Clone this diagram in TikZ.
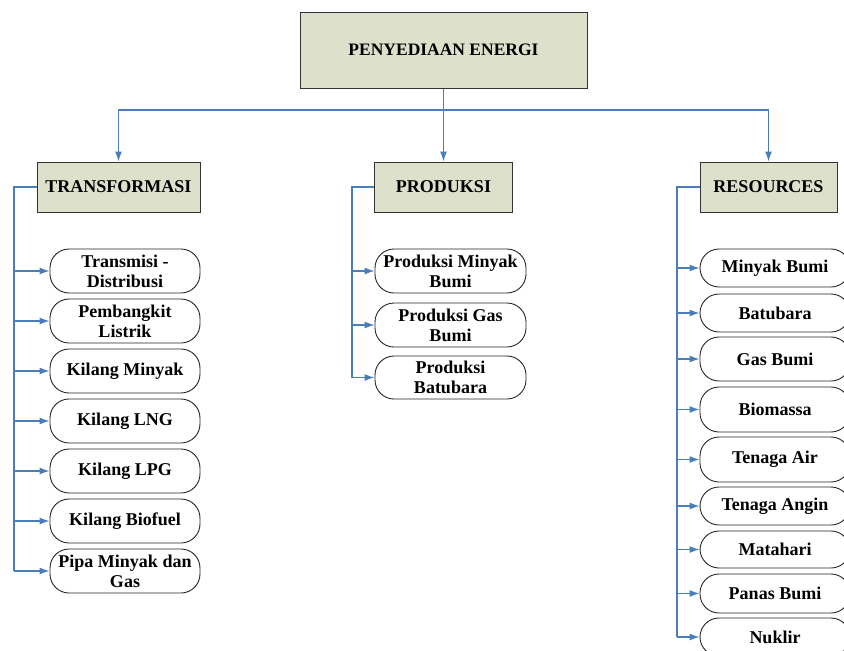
\documentclass[tikz,border=0pt]{standalone}
\usepackage{fontspec}
\setmainfont{Liberation Serif}
\usetikzlibrary{arrows.meta}
\definecolor{kotakisi}{RGB}{221,224,203}
\definecolor{garisbiru}{RGB}{74,126,187}
\tikzset{
    kotak/.style={draw=black!80, line width=1pt, fill=kotakisi, inner sep=1pt, font=\fontsize{18}{20}\selectfont\bfseries},
    bulat/.style={draw=black!85, line width=0.9pt, fill=white, rounded corners=19pt, inner sep=0pt, minimum width=150pt, align=center, font=\fontsize{18}{20}\selectfont\bfseries},
    garis/.style={draw=garisbiru, line width=1.2pt},
    panah/.style={garis, -{Latex[length=10pt, width=7pt]}}
}
\begin{document}
\begin{tikzpicture}[x=1pt, y=-1pt]
        \useasboundingbox (0,0) rectangle (844,651);
        % kotak utama
        \node[kotak, minimum width=287pt, minimum height=76pt, font=\fontsize{17.5}{19}\selectfont\bfseries] (top) at (443.5,50) {PENYEDIAAN ENERGI};
        \node[kotak, minimum width=163pt, minimum height=50pt] (trans) at (118.5,187) {TRANSFORMASI};
        \node[kotak, minimum width=138pt, minimum height=50pt] (prod) at (443.5,187) {PRODUKSI};
        \node[kotak, minimum width=137pt, minimum height=50pt] (res) at (768.5,187) {RESOURCES};
        \coordinate (cabang) at (443.5,110);
        \draw[garis] (top.south) -- (cabang);
        \draw[panah] (cabang) -| (trans.north);
        \draw[panah] (cabang) -- (prod.north);
        \draw[panah] (cabang) -| (res.north);

        % transformasi
        \node[bulat, minimum height=44pt] (t1) at (125,271) {Transmisi -\\Distribusi};
        \node[bulat, minimum height=44pt] (t2) at (125,321) {Pembangkit\\Listrik};
        \node[bulat, minimum height=44pt] (t3) at (125,371) {Kilang Minyak};
        \node[bulat, minimum height=44pt] (t4) at (125,421) {Kilang LNG};
        \node[bulat, minimum height=44pt] (t5) at (125,471) {Kilang LPG};
        \node[bulat, minimum height=44pt] (t6) at (125,521) {Kilang Biofuel};
        \node[bulat, minimum height=44pt] (t7) at (125,571) {Pipa Minyak dan\\Gas};
        \coordinate (st) at (14,187);
        \draw[garis] (trans.west) -- (st) -- (st |- t7.west);
        \draw[panah] (st |- t1.west) -- (t1.west);
        \draw[panah] (st |- t2.west) -- (t2.west);
        \draw[panah] (st |- t3.west) -- (t3.west);
        \draw[panah] (st |- t4.west) -- (t4.west);
        \draw[panah] (st |- t5.west) -- (t5.west);
        \draw[panah] (st |- t6.west) -- (t6.west);
        \draw[panah] (st |- t7.west) -- (t7.west);

        % produksi
        \node[bulat, minimum width=151pt, minimum height=44pt] (p1) at (450.5,271) {Produksi Minyak\\Bumi};
        \node[bulat, minimum width=151pt, minimum height=44pt] (p2) at (450.5,325) {Produksi Gas\\Bumi};
        \node[bulat, minimum width=151pt, minimum height=43pt] (p3) at (450.5,377.5) {Produksi\\Batubara};
        \coordinate (sp) at (352,187);
        \draw[garis] (prod.west) -- (sp) -- (sp |- p3.west);
        \draw[panah] (sp |- p1.west) -- (p1.west);
        \draw[panah] (sp |- p2.west) -- (p2.west);
        \draw[panah] (sp |- p3.west) -- (p3.west);

        % resources
        \node[bulat, minimum height=38pt] (r1) at (775,268) {Minyak Bumi};
        \node[bulat, minimum height=38pt] (r2) at (775,313) {Batubara};
        \node[bulat, minimum height=44pt] (r3) at (775,359) {Gas Bumi};
        \node[bulat, minimum height=45pt] (r4) at (775,409.5) {Biomassa};
        \node[bulat, minimum height=45pt] (r5) at (775,459.5) {Tenaga Air};
        \node[bulat, minimum height=38pt] (r6) at (775,506) {Tenaga Angin};
        \node[bulat, minimum height=37pt] (r7) at (775,549.5) {Matahari};
        \node[bulat, minimum height=39pt] (r8) at (775,593.5) {Panas Bumi};
        \node[bulat, minimum height=38pt] (r9) at (775,637) {Nuklir};
        \coordinate (sr) at (677,187);
        \draw[garis] (res.west) -- (sr) -- (sr |- r9.west);
        \draw[panah] (sr |- r1.west) -- (r1.west);
        \draw[panah] (sr |- r2.west) -- (r2.west);
        \draw[panah] (sr |- r3.west) -- (r3.west);
        \draw[panah] (sr |- r4.west) -- (r4.west);
        \draw[panah] (sr |- r5.west) -- (r5.west);
        \draw[panah] (sr |- r6.west) -- (r6.west);
        \draw[panah] (sr |- r7.west) -- (r7.west);
        \draw[panah] (sr |- r8.west) -- (r8.west);
        \draw[panah] (sr |- r9.west) -- (r9.west);
    \end{tikzpicture}
\end{document}
